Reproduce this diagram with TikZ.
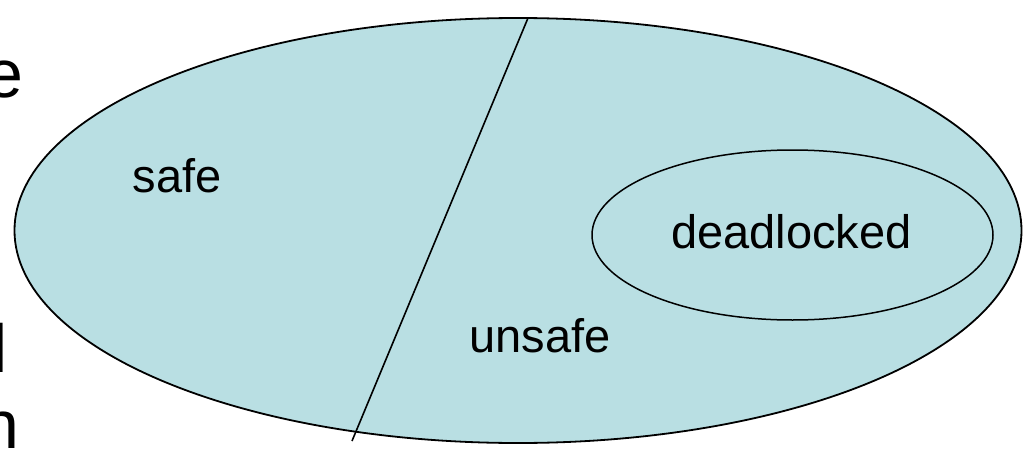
\documentclass[tikz,border=0pt]{standalone}
\usepackage{fontspec}
\setmainfont{Liberation Sans}
\definecolor{setfill}{HTML}{B9DFE3}
\begin{document}
\begin{tikzpicture}[x=1pt,y=-1pt,
  region/.style={draw=black,line width=1.8pt,fill=setfill},
  lbl/.style={font=\fontsize{47}{56}\selectfont,inner sep=0pt,anchor=base},
  frag/.style={font=\fontsize{68}{70}\selectfont,inner sep=0pt,anchor=base east}]
\useasboundingbox (0,0) rectangle (1028,455);
\begin{scope}
\clip (0,0) rectangle (1028,455);
\node[frag] (fe) at (24,97) {e};
\node[frag] (fl) at (8,372) {l};
\node[frag] (fn) at (20,448) {n};
\end{scope}
\draw[region] (518,230.5) ellipse [x radius=503.5, y radius=212.5];
\coordinate (top) at (528,18);
\coordinate (bot) at (352,441);
\draw[line width=1.6pt] (top) -- (bot);
\draw[region,line width=1.5pt] (792.5,235) ellipse [x radius=200.5, y radius=85];
\node[lbl] (safe) at (177,192) {safe};
\node[lbl] (dead) at (791.5,248) {deadlocked};
\node[lbl] (unsafe) at (540,352) {unsafe};
\end{tikzpicture}
\end{document}
